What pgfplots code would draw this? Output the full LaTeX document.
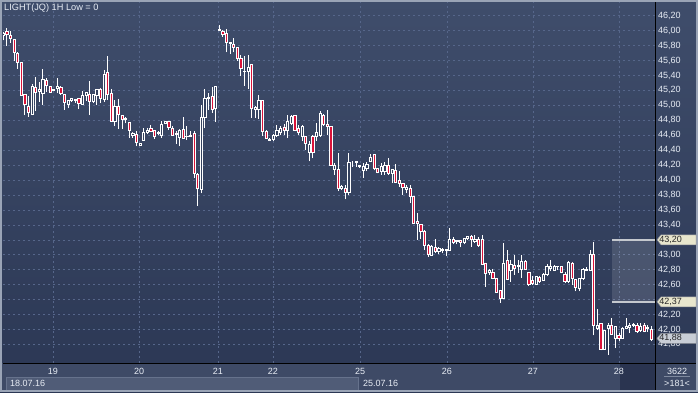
\documentclass[border=0pt]{standalone}
\usepackage{pgfplots}
\pgfplotsset{compat=1.18}
\usepackage{pgfplotstable}
\usepackage{fontspec}
\setmainfont{Liberation Sans}
\definecolor{bgtop}{HTML}{3F4D6B}
\definecolor{bgbot}{HTML}{2B3754}
\definecolor{gridc}{HTML}{56668A}
\definecolor{candred}{HTML}{DA1339}
\definecolor{upfill}{HTML}{34415E}
\definecolor{botpanel}{HTML}{3E4A66}
\definecolor{stripc}{HTML}{505C77}
\definecolor{stripb}{HTML}{66728C}
\definecolor{darkbox}{HTML}{2A3450}
\definecolor{framec}{HTML}{9AA4B6}
\definecolor{ticktext}{HTML}{E8EDF5}
\definecolor{tagbeige}{HTML}{E8E6CD}
\definecolor{taggray}{HTML}{C8CDD6}
\definecolor{tagedge}{HTML}{8A8E96}
\definecolor{rangec}{HTML}{C4C8CE}

\pgfplotstableread{
i o h l c
1 45.94 45.98 45.87 45.96
2 45.99 46.04 45.80 45.95
3 45.94 45.99 45.84 45.89
4 45.88 45.88 45.60 45.71
5 45.70 45.71 45.49 45.57
6 45.57 45.58 45.13 45.13
7 45.15 45.15 44.87 45.01
8 44.99 45.12 44.85 44.90
9 44.88 45.28 44.87 45.26
10 45.24 45.38 44.93 45.17
11 45.19 45.31 45.05 45.21
12 45.16 45.48 45.01 45.35
13 45.33 45.36 45.18 45.27
14 45.25 45.26 45.17 45.17
15 45.20 45.21 45.19 45.21
16 45.23 45.36 45.16 45.25
17 45.24 45.26 45.14 45.16
18 45.14 45.15 44.94 45.04
19 45.01 45.07 44.96 45.06
20 45.06 45.09 45.05 45.09
21 45.07 45.09 45.03 45.08
22 45.09 45.09 44.95 45.03
23 45.01 45.19 45.01 45.13
24 45.13 45.18 45.06 45.17
25 45.14 45.32 44.87 45.05
26 45.05 45.15 45.03 45.15
27 45.13 45.22 45.01 45.21
28 45.22 45.23 45.03 45.09
29 45.08 45.47 45.05 45.42
30 45.44 45.66 45.07 45.15
31 45.16 45.22 44.78 44.78
32 44.78 45.07 44.72 44.99
33 44.99 45.08 44.68 44.88
34 44.86 44.87 44.68 44.81
35 44.81 44.84 44.76 44.83
36 44.77 44.78 44.56 44.66
37 44.60 44.64 44.56 44.63
38 44.61 44.65 44.45 44.51
39 44.46 44.49 44.46 44.49
40 44.53 44.70 44.53 44.64
41 44.64 44.70 44.62 44.67
42 44.69 44.74 44.65 44.65
43 44.66 44.67 44.55 44.58
44 44.63 44.66 44.60 44.64
45 44.60 44.79 44.56 44.75
46 44.76 44.79 44.75 44.79
47 44.78 44.79 44.67 44.70
48 44.69 44.72 44.60 44.60
49 44.63 44.66 44.48 44.61
50 44.57 44.68 44.45 44.67
51 44.68 44.84 44.56 44.56
52 44.58 44.72 44.54 44.59
53 44.58 44.65 44.58 44.60
54 44.62 44.66 44.03 44.09
55 44.08 44.09 43.65 43.89
56 43.88 45.01 43.82 44.84
57 44.84 45.22 44.69 45.09
58 45.09 45.16 44.94 45.11
59 45.12 45.25 44.90 44.94
60 44.96 45.26 44.78 45.25
61 46.00 46.07 45.99 46.01
62 45.99 46.01 45.92 45.95
63 45.96 46.02 45.71 45.84
64 45.83 45.85 45.69 45.84
65 45.82 45.90 45.71 45.77
66 45.78 45.78 45.60 45.63
67 45.63 45.68 45.39 45.50
68 45.45 45.66 45.26 45.46
69 45.45 45.68 45.22 45.51
70 45.55 45.55 44.83 44.96
71 44.95 44.99 44.83 44.97
72 44.95 45.14 44.82 45.07
73 45.07 45.07 44.59 44.65
74 44.65 44.67 44.55 44.56
75 44.54 44.56 44.52 44.53
76 44.55 44.61 44.52 44.60
77 44.60 44.74 44.58 44.67
78 44.64 44.72 44.60 44.69
79 44.71 44.75 44.60 44.66
80 44.67 44.87 44.56 44.78
81 44.76 44.87 44.74 44.85
82 44.86 44.87 44.67 44.67
83 44.69 44.74 44.60 44.64
84 44.58 44.74 44.52 44.72
85 44.58 44.59 44.40 44.49
86 44.37 44.52 44.25 44.48
87 44.58 44.60 44.29 44.37
88 44.59 44.76 44.52 44.64
89 44.60 44.92 44.58 44.89
90 44.87 44.89 44.72 44.74
91 44.75 44.94 44.60 44.72
92 44.72 44.72 44.20 44.20
93 44.14 44.23 44.07 44.20
94 44.14 44.36 43.85 43.89
95 43.89 43.94 43.86 43.92
96 43.89 43.94 43.74 43.83
97 43.84 44.36 43.80 44.23
98 44.24 44.25 44.18 44.24
99 44.23 44.25 44.18 44.25
100 44.18 44.20 44.16 44.20
101 44.13 44.23 44.03 44.18
102 44.15 44.24 44.12 44.21
103 44.25 44.35 44.24 44.31
104 44.34 44.35 44.13 44.16
105 44.15 44.16 44.09 44.10
106 44.12 44.23 44.07 44.18
107 44.12 44.24 44.07 44.20
108 44.20 44.29 44.07 44.09
109 44.09 44.14 43.96 44.14
110 44.13 44.21 43.97 43.97
111 43.99 44.12 43.91 43.96
112 43.95 43.96 43.80 43.90
113 43.88 43.93 43.82 43.90
114 43.89 43.93 43.69 43.78
115 43.78 43.78 43.41 43.42
116 43.45 43.56 43.20 43.42
117 43.41 43.41 43.21 43.31
118 43.31 43.33 43.07 43.13
119 43.12 43.14 42.97 43.00
120 42.99 43.13 42.99 43.11
121 43.10 43.21 43.02 43.05
122 43.05 43.11 43.01 43.08
123 43.06 43.09 43.02 43.07
124 43.07 43.07 42.98 43.06
125 43.06 43.36 43.06 43.21
126 43.21 43.24 43.14 43.17
127 43.18 43.20 43.14 43.19
128 43.19 43.20 43.10 43.17
129 43.16 43.22 43.14 43.22
130 43.22 43.25 43.20 43.24
131 43.25 43.27 43.11 43.21
132 43.18 43.27 43.16 43.20
133 43.21 43.24 43.11 43.12
134 43.20 43.26 42.87 42.87
135 42.89 42.89 42.57 42.75
136 42.77 42.81 42.73 42.79
137 42.77 42.81 42.67 42.69
138 42.69 42.69 42.49 42.50
139 42.52 42.52 42.36 42.42
140 42.41 43.16 42.41 42.89
141 42.92 43.07 42.67 42.67
142 42.79 42.93 42.64 42.87
143 42.86 43.00 42.73 42.82
144 42.84 42.93 42.76 42.86
145 42.80 43.00 42.69 42.91
146 42.91 42.93 42.80 42.80
147 42.77 42.77 42.58 42.60
148 42.66 42.71 42.60 42.62
149 42.60 42.71 42.60 42.71
150 42.70 42.71 42.62 42.65
151 42.66 42.75 42.65 42.74
152 42.74 42.88 42.71 42.84
153 42.82 42.93 42.78 42.84
154 42.79 42.86 42.78 42.84
155 42.84 42.85 42.80 42.85
156 42.84 42.85 42.75 42.76
157 42.74 42.77 42.62 42.64
158 42.64 42.91 42.62 42.90
159 42.89 42.90 42.60 42.68
160 42.67 42.68 42.51 42.56
161 42.55 42.69 42.51 42.68
162 42.68 42.82 42.66 42.80
163 42.79 42.84 42.79 42.80
164 42.79 43.06 42.78 43.00
165 43.01 43.17 41.92 42.05
166 42.02 42.28 41.99 42.06
167 42.08 42.08 41.72 41.73
168 41.73 41.99 41.73 41.99
169 42.02 42.08 41.66 42.06
170 42.06 42.16 41.93 41.93
171 41.88 42.04 41.75 42.04
172 41.92 41.95 41.84 41.88
173 41.88 42.03 41.88 42.02
174 42.02 42.16 42.00 42.04
175 42.03 42.08 41.95 42.06
176 42.07 42.09 42.03 42.05
177 42.05 42.09 41.95 41.97
178 41.99 42.09 41.97 42.04
179 42.06 42.08 41.96 41.97
180 42.01 42.06 41.97 42.03
181 42.00 42.04 41.84 41.87
}\candles

\pgfplotsset{
  candleaxis/.style={
    at={(3pt,29pt)}, anchor=south west,
    width=652pt, height=361pt, scale only axis,
    xmin=0.92, xmax=182.03, ymin=41.551, ymax=46.383,
  }
}

\begin{document}
\fontsize{9}{11}\selectfont
\begin{tikzpicture}
\useasboundingbox (0pt,0pt) rectangle (698pt,392pt);
\shade[top color=bgtop, bottom color=bgbot] (0pt,0pt) rectangle (698pt,392pt);
\fill[botpanel] (0pt,0pt) rectangle (698pt,29pt);
\fill[stripc] (6pt,2pt) rectangle (358pt,15pt);
\draw[stripb, line width=0.6pt] (6pt,2pt) rectangle (358pt,15pt);
\fill[darkbox] (620pt,2pt) rectangle (655pt,28.5pt);

\begin{axis}[candleaxis,
  axis line style={draw=none},
  major tick length=0pt,
  grid=major,
  major grid style={draw=gridc, line width=0.6pt, dash pattern=on 2pt off 3pt},
  xtick={14.8,38.7,60.6,75.9,100.1,124.25,148.1,172.0},
  xticklabels={19,20,21,22,25,26,27,28},
  xticklabel style={anchor=center, yshift=-8.5pt, text=ticktext, font=\fontsize{9}{11}\selectfont},
  ytick={41.8,42.0,42.2,42.4,42.6,42.8,43.0,43.2,43.4,43.6,43.8,44.0,44.2,44.4,44.6,44.8,45.0,45.2,45.4,45.6,45.8,46.0,46.2},
  yticklabel pos=right,
  scaled y ticks=false,
  yticklabels={{41,80},{42,00},{42,20},{},{42,60},{42,80},{43,00},{},{43,40},{43,60},{43,80},{44,00},{44,20},{44,40},{44,60},{44,80},{45,00},{45,20},{45,40},{45,60},{45,80},{46,00},{46,20}},
  yticklabel style={anchor=west, text=ticktext, font=\fontsize{9}{11}\selectfont},
]
\addplot[draw=none, mark=none, forget plot,
  error bars/.cd, y dir=plus, y explicit, error mark=none,
  error bar style={draw=white, line width=0.8pt, solid}]
  table[x=i, y=l, y error plus expr=\thisrow{h}-\thisrow{l}] {\candles};
\fill[white, opacity=0.12] (axis cs:170.1,42.37) rectangle (axis cs:182.03,43.20);
\draw[rangec, line width=1.6pt] (axis cs:170.1,43.20) -- (axis cs:182.03,43.20);
\draw[rangec, line width=1.6pt] (axis cs:170.1,42.37) -- (axis cs:182.03,42.37);
\coordinate (tagA) at (axis cs:182.03,43.20);
\coordinate (tagB) at (axis cs:182.03,42.37);
\coordinate (tagC) at (axis cs:182.03,41.88);
\end{axis}

\begin{axis}[candleaxis, hide axis, ybar stacked, bar width=0.62]
\addplot[draw=none, fill=none] table[x=i, y expr={min(\thisrow{o},\thisrow{c})}] {\candles};
\addplot[draw=white, fill=upfill, line width=0.75pt] table[x=i, y expr={max(\thisrow{c}-\thisrow{o},0)}] {\candles};
\addplot[draw=white, fill=candred, line width=0.75pt] table[x=i, y expr={max(\thisrow{o}-\thisrow{c},0)}] {\candles};
\end{axis}

% frame and separators
\draw[black, line width=1pt] (655pt,0pt) -- (655pt,392pt);
\draw[black, line width=1pt] (3pt,29pt) -- (698pt,29pt);
\draw[framec, line width=2pt] (1pt,1pt) rectangle (697pt,391pt);

% price tags
\foreach \cc/\col/\txt in {tagA/tagbeige/{43,20}, tagB/tagbeige/{42,37}, tagC/taggray/{41,88}}{
  \begin{scope}[shift={(\cc)}]
    \filldraw[fill=\col, draw=tagedge, line width=0.5pt] (2pt,0pt) -- (6pt,5pt) -- (41pt,5pt) -- (41pt,-5pt) -- (6pt,-5pt) -- cycle;
    \node[anchor=west, inner sep=0pt, text=black!85] at (4.2pt,0pt) {\txt};
  \end{scope}
}

% texts
\node[anchor=west, inner sep=0pt, text=ticktext, font=\fontsize{9.2}{11}\selectfont] at (4pt,383.5pt) {LIGHT(JQ) 1H Low = 0};
\node[anchor=west, inner sep=0pt, text=ticktext] at (10pt,8.5pt) {18.07.16};
\node[anchor=west, inner sep=0pt, text=ticktext] at (363pt,8.5pt) {25.07.16};
\node[anchor=center, inner sep=0pt, text=ticktext] at (677pt,21pt) {3622};
\draw[framec!70!botpanel, line width=0.5pt] (664pt,15.5pt) -- (690pt,15.5pt);
\node[anchor=center, inner sep=0pt, text=ticktext] at (677pt,8.5pt) {>181<};
\end{tikzpicture}
\end{document}
